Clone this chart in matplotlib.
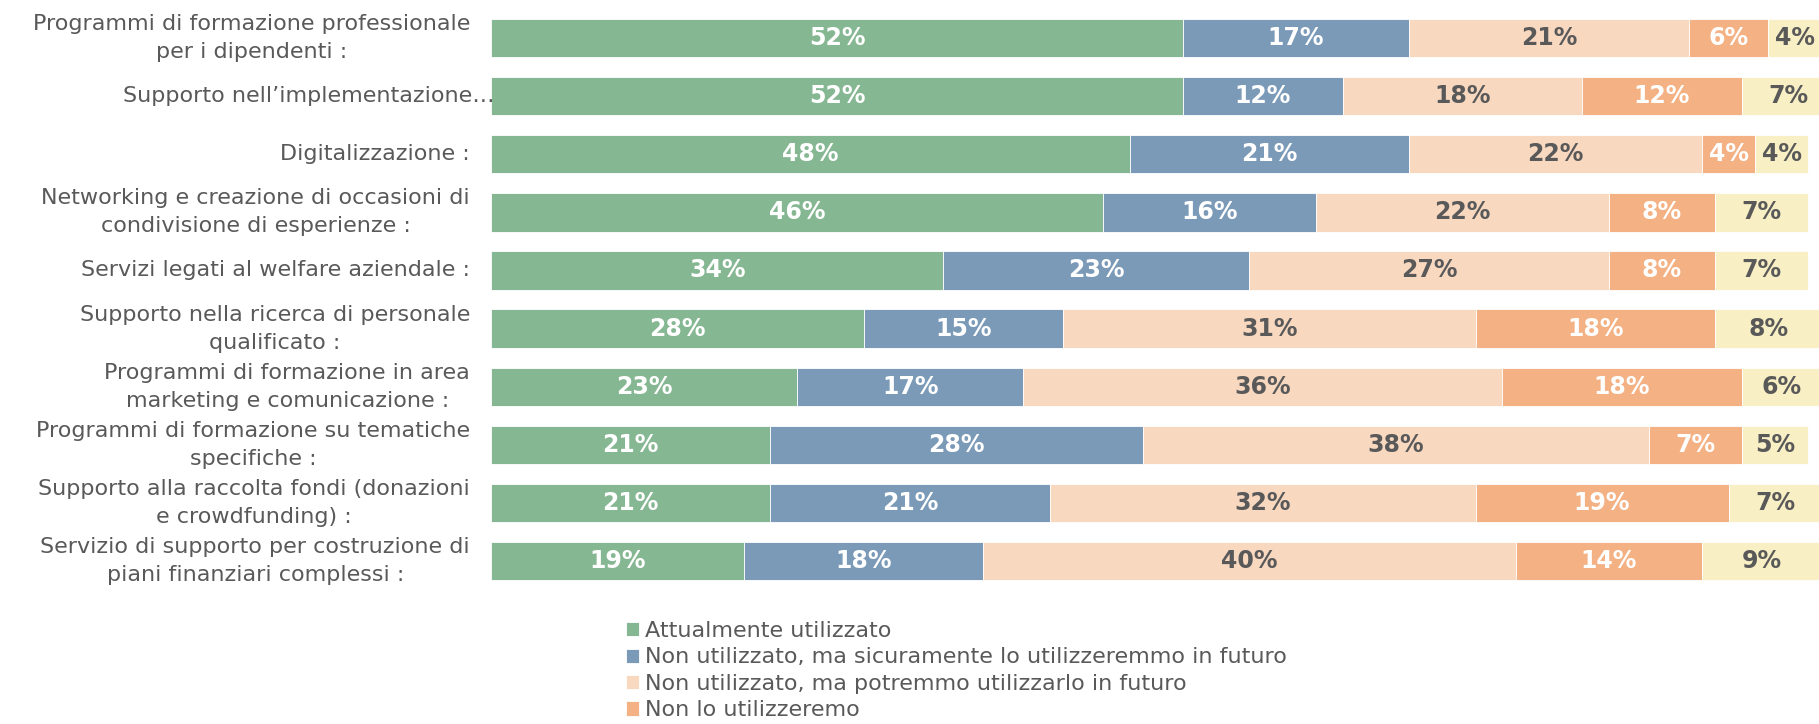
import matplotlib.pyplot as plt
import numpy as np

categorie = [
    "Programmi di formazione professionale\nper i dipendenti :",
    "Supporto nell\u2019implementazione\u2026",
    "Digitalizzazione :",
    "Networking e creazione di occasioni di\ncondivisione di esperienze :",
    "Servizi legati al welfare aziendale :",
    "Supporto nella ricerca di personale\nqualificato :",
    "Programmi di formazione in area\nmarketing e comunicazione :",
    "Programmi di formazione su tematiche\nspecifiche :",
    "Supporto alla raccolta fondi (donazioni\ne crowdfunding) :",
    "Servizio di supporto per costruzione di\npiani finanziari complessi :",
]

utilizzato = [52, 52, 48, 46, 34, 28, 23, 21, 21, 19]
sicuramente = [17, 12, 21, 16, 23, 15, 17, 28, 21, 18]
potremmo = [21, 18, 22, 22, 27, 31, 36, 38, 32, 40]
non_utilizzeremo = [6, 12, 4, 8, 8, 18, 18, 7, 19, 14]
altro = [4, 7, 4, 7, 7, 8, 6, 5, 7, 9]

legenda = [
    "Attualmente utilizzato",
    "Non utilizzato, ma sicuramente lo utilizzeremmo in futuro",
    "Non utilizzato, ma potremmo utilizzarlo in futuro",
    "Non lo utilizzeremo",
]

serie = [utilizzato, sicuramente, potremmo, non_utilizzeremo, altro]
colori = ["#86b793", "#7b9ab8", "#f9d8c0", "#f4b183", "#f9efc4"]
colori_testo = ["white", "white", "#595959", "white", "#595959"]
grigio = "#595959"

plt.rcParams["font.family"] = ["DejaVu Sans"]

fig = plt.figure(figsize=(18.19, 7.24), dpi=100)
ax = fig.add_axes([491 / 1819, 1 - 600 / 724, 1 - 491 / 1819, 600 / 724])

y = np.arange(len(categorie))
sinistra = np.zeros(len(categorie))
barre = []
for i, valori in enumerate(serie):
    b = ax.barh(y, valori, left=sinistra, height=0.66, color=colori[i],
                edgecolor="white", linewidth=0.6)
    barre.append(b)
    for yy, v, l in zip(y, valori, sinistra):
        ax.text(l + v / 2, yy, f"{v}%", ha="center", va="center",
                color=colori_testo[i], fontsize=17, fontweight="bold",
                family=["Liberation Sans Narrow", "DejaVu Sans"])
    sinistra += np.array(valori)

ax.set_xlim(0, 99.8)
ax.set_ylim(9.67, -0.654)
ax.set_xticks([])
ax.set_yticks([])
for s in ax.spines.values():
    s.set_visible(False)

# etichette delle categorie, centrate su più righe e allineate a destra
for i, testo in enumerate(categorie):
    dx = 4 if i == 1 else -21
    ax.annotate(testo, xy=(0, i), xycoords=("axes fraction", "data"),
                xytext=(dx, 0), textcoords="offset pixels",
                ha="right", va="center", multialignment="center",
                fontsize=16, color=grigio, linespacing=1.5,
                annotation_clip=False)

fig.legend(barre[:4], legenda, loc="upper left",
           bbox_to_anchor=(626 / 1819, 1 - 621 / 724), frameon=False,
           fontsize=16, labelcolor=grigio, handlelength=0.6,
           handleheight=0.6, handletextpad=0.25, labelspacing=0.29,
           borderaxespad=0, borderpad=0)

fig.savefig("out.png", dpi=100)
